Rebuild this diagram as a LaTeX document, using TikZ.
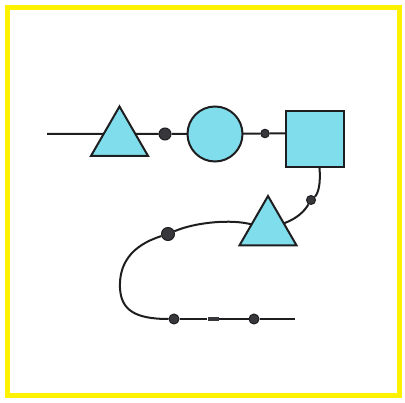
\documentclass[tikz,border=0pt]{standalone}
\usetikzlibrary{shapes.geometric,backgrounds}
\definecolor{shapecyan}{RGB}{128,222,236}
\definecolor{inkline}{RGB}{30,30,32}
\definecolor{dotfill}{RGB}{55,55,60}
\definecolor{frameyellow}{RGB}{255,242,0}
\tikzset{
  shapebase/.style={draw=inkline, fill=shapecyan, line width=2pt, inner sep=0pt, outer sep=0pt},
  trishape/.style={shapebase, regular polygon, regular polygon sides=3, minimum size=66pt},
  circshape/.style={shapebase, circle, minimum size=55pt},
  sqshape/.style={shapebase, rectangle, minimum width=58pt, minimum height=56pt},
  dotnode/.style={circle, draw=inkline, fill=dotfill, line width=1pt, inner sep=0pt, minimum size=#1},
  wire/.style={draw=inkline, line width=2pt},
  markbox/.style={rectangle, fill=dotfill, inner sep=0pt, minimum width=11pt, minimum height=4.5pt}
}
\begin{document}
\begin{tikzpicture}[x=1pt,y=-1pt]
\useasboundingbox (0,0) rectangle (405,403);
\draw[frameyellow, line width=5pt] (7.5,7.5) rectangle (399.5,396);
% nodes
\coordinate (start) at (47,134);
\node[trishape] (t1) at (119.5,139.5) {};
\node[dotnode=12pt] (d1) at (165,134) {};
\node[circshape] (c) at (215,134) {};
\node[dotnode=8.5pt] (d2) at (265,133.5) {};
\node[sqshape] (sq) at (314.5,139.5) {};
\node[dotnode=9pt] (d5) at (311,200) {};
\node[trishape] (t2) at (268,229) {};
\node[dotnode=13pt] (d6) at (168,234) {};
\node[dotnode=10pt] (d7) at (174,319) {};
\node[markbox] (mk) at (213,319) {};
\node[dotnode=10pt] (d8) at (254,319) {};
\coordinate (end) at (295,319);
% connectors
\begin{scope}[on background layer]
\draw[wire] (start) -- (d1) -- (c) -- (d2) -- (d2 -| sq.west);
\draw[wire] (sq.-80) .. controls (321,184) and (318,194) .. (d5);
\draw[wire] (d5) .. controls (304,212) and (296,219) .. (t2);
\draw[wire] (t2) .. controls (232,219) and (196,222) .. (d6);
\draw[wire] (d6) .. controls (130,246) and (119,265) .. (120,288)
  .. controls (121,310) and (135,319) .. (d7);
\draw[wire] (d7) -- (mk) -- (d8) -- (end);
\end{scope}
\end{tikzpicture}
\end{document}
